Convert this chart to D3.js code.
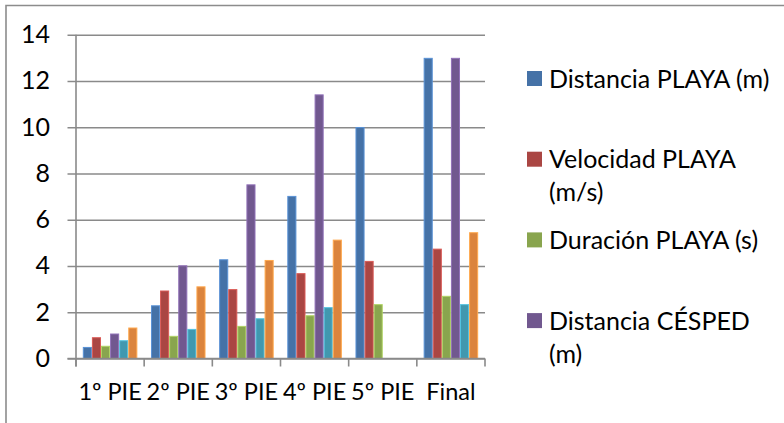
<!DOCTYPE html>
<html>
<head>
<meta charset="utf-8">
<script src="https://cdn.jsdelivr.net/npm/d3@7"></script>
<style>
  html, body { margin: 0; padding: 0; background: #fff; }
  svg { display: block; }
  text { font-family: Lato, "Open Sans", sans-serif; fill: #000; }
</style>
</head>
<body>
<svg id="chart" width="784" height="423"></svg>
<script>
// ---- data ----
const categories = ["1º PIE", "2º PIE", "3º PIE", "4º PIE", "5º PIE", "Final"];
const seriesNames = [
  "Distancia PLAYA (m)",
  "Velocidad PLAYA (m/s)",
  "Duración PLAYA (s)",
  "Distancia CÉSPED (m)",
  "Velocidad CÉSPED (m/s)",
  "Duración CÉSPED (s)"
];
const distanciaPlaya  = [0.5, 2.3, 4.29, 7.03, 10.01, 13.0];
const velocidadPlaya  = [0.92, 2.94, 3.0, 3.69, 4.22, 4.75];
const duracionPlaya   = [0.55, 0.98, 1.41, 1.87, 2.35, 2.71];
const distanciaCesped = [1.08, 4.03, 7.53, 11.42, null, 13.0];
const velocidadCesped = [0.79, 1.28, 1.74, 2.22, null, 2.35];
const duracionCesped  = [1.34, 3.12, 4.26, 5.14, null, 5.46];
const yTicks = [0, 2, 4, 6, 8, 10, 12, 14];

const seriesValues = [distanciaPlaya, velocidadPlaya, duracionPlaya,
                      distanciaCesped, velocidadCesped, duracionCesped];
const colors = ["#4572a7", "#aa4643", "#89a54e", "#71588f", "#4198af", "#db843d"];

// ---- layout ----
(function () {
const svg = d3.select("#chart");
const pLeft = 76, pRight = 485, pTop = 34.7, pBottom = 358.5;
const fontSize = 25, catFontSize = 23.5;

// chart border (cropped: only top and left visible)
svg.append("path")
  .attr("d", "M6,423 L6,5.5 L784,5.5")
  .attr("fill", "none").attr("stroke", "#8c8c8c").attr("stroke-width", 1.6);

const x0 = d3.scaleBand().domain(categories).range([pLeft, pRight]).padding(0);
const x1 = d3.scaleBand().domain(d3.range(seriesNames.length))
  .range([0, x0.bandwidth()]).paddingInner(0).paddingOuter(0.75);
const y = d3.scaleLinear().domain([0, 14]).range([pBottom, pTop]);

// gridlines
const grid = svg.append("g").attr("transform", `translate(${pRight},0)`)
  .call(d3.axisLeft(y).tickValues(yTicks).tickSize(pRight - pLeft + 8.5).tickFormat(""));
grid.select(".domain").remove();
grid.selectAll("line").attr("stroke", "#8a8a8a").attr("stroke-width", 1.6);

// y axis labels
const yAxis = svg.append("g").attr("transform", `translate(${pLeft},0)`)
  .call(d3.axisLeft(y).tickValues(yTicks).tickSize(0).tickPadding(26));
yAxis.select(".domain").remove();
yAxis.selectAll("text").style("font-size", fontSize + "px")
  .attr("font-family", null).attr("fill", "#000");

// bars
const groups = svg.append("g").selectAll("g")
  .data(categories).join("g")
  .attr("transform", d => `translate(${x0(d)},0)`);
groups.selectAll("rect")
  .data((c, ci) => seriesValues.map((vals, si) => ({ si, v: vals[ci] })).filter(d => d.v != null))
  .join("rect")
  .attr("x", d => x1(d.si) + 0.5)
  .attr("width", x1.bandwidth() - 1)
  .attr("y", d => y(d.v) + 0.5)
  .attr("height", d => y(0) - y(d.v) - 0.5)
  .attr("fill", d => colors[d.si])
  .attr("stroke", d => d3.color(colors[d.si]).brighter(0.7))
  .attr("stroke-width", 1);

// x axis: boundary tick marks
const bounds = categories.map(c => x0(c)).concat([pRight]);
svg.append("g").selectAll("line").data(bounds).join("line")
  .attr("x1", d => d).attr("x2", d => d)
  .attr("y1", pBottom).attr("y2", pBottom + 8)
  .attr("stroke", "#8a8a8a").attr("stroke-width", 1.6);
// y axis line
svg.append("line").attr("x1", pLeft).attr("x2", pLeft)
  .attr("y1", pTop).attr("y2", pBottom + 8)
  .attr("stroke", "#8a8a8a").attr("stroke-width", 1.6);
// x-axis baseline
svg.append("line").attr("x1", pLeft - 8.5).attr("x2", pRight)
  .attr("y1", pBottom).attr("y2", pBottom)
  .attr("stroke", "#8a8a8a").attr("stroke-width", 1.6);

// category labels
const xAxis = svg.append("g").attr("transform", `translate(0,${pBottom})`)
  .call(d3.axisBottom(x0).tickSize(0).tickPadding(0));
xAxis.select(".domain").remove();
xAxis.selectAll("text").style("font-size", catFontSize + "px")
  .attr("font-family", null).attr("fill", "#000")
  .attr("dy", null).attr("y", 41.5);

// legend
const legX = 527, legTextX = 549, legFirst = 78.5, legPitch = 80.7, lineH = 33, maxW = 228;
const legend = svg.append("g");
seriesNames.forEach((name, i) => {
  const cy = legFirst + i * legPitch;
  if (cy > 370) return;
  const t = legend.append("text").style("font-size", fontSize + "px");
  const words = name.split(" ");
  let line = [], lineNo = 0;
  let tspan = t.append("tspan").attr("x", legTextX).attr("y", cy).attr("dy", "0.36em");
  words.forEach(w => {
    line.push(w);
    tspan.text(line.join(" "));
    if (tspan.node().getComputedTextLength() > maxW && line.length > 1) {
      line.pop();
      tspan.text(line.join(" "));
      line = [w];
      lineNo++;
      tspan = t.append("tspan").attr("x", legTextX).attr("y", cy + lineNo * lineH)
        .attr("dy", "0.36em").text(w);
    }
  });
  legend.append("rect").attr("x", legX).attr("y", cy - 7.5)
    .attr("width", 15).attr("height", 15).attr("fill", colors[i]);
});
})();
</script>
</body>
</html>
